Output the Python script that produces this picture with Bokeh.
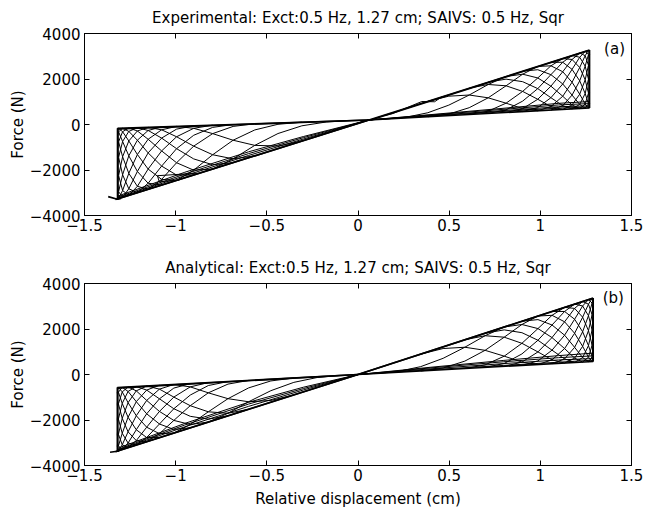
from bokeh.plotting import figure
from bokeh.models import Range1d, FixedTicker, LinearAxis, Label, CustomJSTickFormatter
from bokeh.layouts import column
from bokeh.embed import file_html
from bokeh.resources import INLINE

FONT = "DejaVu Sans"

X_TICKS = [-1.5, -1, -0.5, 0, 0.5, 1, 1.5]
Y_TICKS = [-4000, -2000, 0, 2000, 4000]

TITLE_A = "Experimental: Exct:0.5 Hz, 1.27 cm; SAIVS: 0.5 Hz, Sqr"
TITLE_B = "Analytical: Exct:0.5 Hz, 1.27 cm; SAIVS: 0.5 Hz, Sqr"
X_LABEL = "Relative displacement (cm)"
Y_LABEL = "Force (N)"

# =============== panel (a): experimental loops ===============
exp_env_xs = [
    [0.06, 1.27], [0.07, 1.265],
    [0.06, 1.27],
    [0.06, -1.319], [0.06, -1.33],
    [0.06, -1.319], [0.06, -1.319],
    [1.27, 1.27],
    [-1.319, -1.319],
    [-1.37, -1.32, -1.30],
]
exp_env_ys = [
    [200, 3274], [200, 3250],
    [200, 725],
    [200, -3271], [200, -3300],
    [200, -170], [200, -200],
    [725, 3274],
    [-170, -3271],
    [-3170, -3290, -3250],
]
exp_band_xs = [
    [0.06, 0.45, 0.85, 1.10, 1.27],
    [0.06, 0.45, 0.85, 1.10, 1.27],
    [0.06, 0.45, 0.85, 1.10, 1.27],
    [0.06, 0.45, 0.85, 1.10, 1.27],
    [-1.319, -0.95, -0.60, -0.30, 0.06],
    [-1.319, -0.95, -0.60, -0.30, 0.06],
    [-1.319, -0.95, -0.60, -0.30, 0.06],
]
exp_band_ys = [
    [200, 400, 600, 720, 770],
    [200, 420, 640, 780, 820],
    [200, 450, 700, 860, 920],
    [200, 470, 750, 930, 1010],
    [-3240, -2250, -1360, -640, 200],
    [-3200, -2180, -1280, -580, 200],
    [-3150, -2100, -1200, -530, 200],
]
exp_glitch_xs = [[0.15, 0.19, 0.35, 0.42, 0.46], [-0.88, -1.10, -1.09, -0.98]]
exp_glitch_ys = [[400, 480, 1010, 1000, 1220], [-2140, -2250, -2520, -2440]]

exp_right_xs = [
    [0.383, 0.498, 0.610, 0.714, 0.812, 0.903, 0.986],
    [0.610, 0.714, 0.812, 0.903, 0.986, 1.058, 1.123],
    [0.714, 0.812, 0.903, 0.986, 1.058, 1.123, 1.174],
    [0.812, 0.903, 0.986, 1.058, 1.123, 1.174, 1.216],
    [0.903, 0.986, 1.058, 1.123, 1.174, 1.216, 1.246],
    [0.986, 1.058, 1.123, 1.174, 1.216, 1.246, 1.264],
    [1.058, 1.123, 1.174, 1.216, 1.246, 1.264, 1.270],
    [1.123, 1.174, 1.216, 1.246, 1.264, 1.270, 1.264],
    [1.174, 1.216, 1.246, 1.264, 1.270, 1.264, 1.246],
    [1.216, 1.246, 1.264, 1.270, 1.264, 1.246, 1.216],
    [1.246, 1.264, 1.270, 1.264, 1.246, 1.216, 1.174],
    [1.264, 1.270, 1.264, 1.246, 1.216, 1.174, 1.123],
    [1.270, 1.264, 1.246, 1.216, 1.174, 1.123, 1.058],
    [1.264, 1.246, 1.216, 1.174, 1.123, 1.058, 0.986],
    [1.246, 1.216, 1.174, 1.123, 1.058, 0.986, 0.903],
    [1.216, 1.174, 1.123, 1.058, 0.986, 0.903, 0.812],
    [1.174, 1.123, 1.058, 0.986, 0.903, 0.812, 0.714],
    [1.123, 1.058, 0.986, 0.903, 0.812, 0.714, 0.610],
    [0.986, 0.903, 0.812, 0.714, 0.610, 0.498, 0.383],
    [0.812, 0.714, 0.610, 0.498, 0.383, 0.265, 0.146],
]
exp_right_ys = [
    [1020, 1245, 1296, 1173, 937, 698, 602],
    [1597, 1759, 1701, 1454, 1108, 789, 661],
    [1862, 1994, 1882, 1577, 1178, 827, 684],
    [2111, 2211, 2046, 1685, 1242, 858, 701],
    [2343, 2408, 2191, 1781, 1293, 882, 714],
    [2552, 2580, 2320, 1858, 1333, 900, 722],
    [2736, 2735, 2423, 1919, 1362, 911, 725],
    [2900, 2858, 2505, 1964, 1380, 914, 722],
    [3032, 2956, 2565, 1992, 1386, 911, 714],
    [3136, 3027, 2603, 2000, 1380, 900, 701],
    [3213, 3072, 2614, 1992, 1362, 882, 684],
    [3261, 3086, 2603, 1964, 1333, 858, 661],
    [3274, 3072, 2565, 1919, 1293, 827, 633],
    [3261, 3027, 2505, 1858, 1242, 789, 602],
    [3213, 2956, 2423, 1781, 1178, 746, 566],
    [3136, 2858, 2320, 1685, 1108, 698, 527],
    [3032, 2735, 2191, 1577, 1027, 644, 484],
    [2900, 2580, 2046, 1454, 937, 586, 439],
    [2552, 2211, 1701, 1173, 739, 459, 340],
    [2111, 1759, 1296, 851, 517, 321, 238],
]
exp_left_xs = [
    [-0.308, -0.439, -0.566, -0.685, -0.797, -0.901, -0.995],
    [-0.566, -0.685, -0.797, -0.901, -0.995, -1.077, -1.151],
    [-0.685, -0.797, -0.901, -0.995, -1.077, -1.151, -1.210],
    [-0.797, -0.901, -0.995, -1.077, -1.151, -1.210, -1.257],
    [-0.901, -0.995, -1.077, -1.151, -1.210, -1.257, -1.291],
    [-0.995, -1.077, -1.151, -1.210, -1.257, -1.291, -1.313],
    [-1.077, -1.151, -1.210, -1.257, -1.291, -1.313, -1.319],
    [-1.151, -1.210, -1.257, -1.291, -1.313, -1.319, -1.313],
    [-1.210, -1.257, -1.291, -1.313, -1.319, -1.313, -1.291],
    [-1.257, -1.291, -1.313, -1.319, -1.313, -1.291, -1.257],
    [-1.291, -1.313, -1.319, -1.313, -1.291, -1.257, -1.210],
    [-1.313, -1.319, -1.313, -1.291, -1.257, -1.210, -1.151],
    [-1.319, -1.313, -1.291, -1.257, -1.210, -1.151, -1.077],
    [-1.313, -1.291, -1.257, -1.210, -1.151, -1.077, -0.995],
    [-1.291, -1.257, -1.210, -1.151, -1.077, -0.995, -0.901],
    [-1.257, -1.210, -1.151, -1.077, -0.995, -0.901, -0.797],
    [-1.210, -1.151, -1.077, -0.995, -0.901, -0.797, -0.685],
    [-1.151, -1.077, -0.995, -0.901, -0.797, -0.685, -0.566],
    [-0.995, -0.901, -0.797, -0.685, -0.566, -0.439, -0.308],
    [-0.797, -0.685, -0.566, -0.439, -0.308, -0.174, -0.038],
]
exp_left_ys = [
    [-726, -946, -917, -691, -401, -167, -83],
    [-1377, -1511, -1329, -950, -539, -234, -125],
    [-1676, -1769, -1513, -1062, -597, -262, -141],
    [-1958, -2007, -1681, -1161, -649, -285, -154],
    [-2219, -2223, -1828, -1249, -690, -303, -163],
    [-2456, -2412, -1959, -1319, -723, -316, -169],
    [-2663, -2582, -2064, -1376, -747, -324, -170],
    [-2849, -2717, -2148, -1417, -762, -326, -169],
    [-2997, -2825, -2209, -1442, -766, -324, -163],
    [-3115, -2903, -2247, -1450, -762, -316, -154],
    [-3201, -2952, -2259, -1442, -747, -303, -141],
    [-3255, -2967, -2247, -1417, -723, -285, -125],
    [-3271, -2952, -2209, -1376, -690, -262, -105],
    [-3255, -2903, -2148, -1319, -649, -234, -83],
    [-3201, -2825, -2064, -1249, -597, -203, -58],
    [-3115, -2717, -1959, -1161, -539, -167, -30],
    [-2997, -2582, -1828, -1062, -473, -127, 0],
    [-2849, -2412, -1681, -950, -401, -84, 32],
    [-2456, -2007, -1329, -691, -239, 9, 101],
    [-1958, -1511, -917, -397, -58, 111, 174],
]

# =============== panel (b): analytical loops ===============
ana_env_xs = [
    [0.0, 1.29], [0.0, 1.285],
    [0.0, 1.29],
    [0.0, -1.32], [0.0, -1.33],
    [0.0, -1.32], [0.0, -1.32],
    [1.29, 1.29],
    [-1.32, -1.32],
    [-1.36, -1.31],
]
ana_env_ys = [
    [0, 3360], [0, 3340],
    [0, 574],
    [0, -3360], [0, -3400],
    [0, -574], [0, -600],
    [574, 3360],
    [-574, -3360],
    [-3420, -3360],
]
ana_band_xs = [
    [0.0, 0.40, 0.80, 1.10, 1.29],
    [0.0, 0.40, 0.80, 1.10, 1.29],
    [0.0, 0.40, 0.80, 1.10, 1.29],
    [0.0, 0.40, 0.80, 1.10, 1.29],
    [-1.32, -0.95, -0.60, -0.30, 0.0],
    [-1.32, -0.95, -0.60, -0.30, 0.0],
    [-1.32, -0.95, -0.60, -0.30, 0.0],
]
ana_band_ys = [
    [0, 210, 400, 540, 630],
    [0, 250, 480, 640, 700],
    [0, 290, 560, 740, 820],
    [0, 320, 620, 830, 940],
    [-3330, -2300, -1400, -680, 0],
    [-3300, -2220, -1300, -620, 0],
    [-3250, -2150, -1220, -560, 0],
]
ana_right_xs = [
    [0.344, 0.467, 0.586, 0.697, 0.802, 0.899, 0.987],
    [0.586, 0.697, 0.802, 0.899, 0.987, 1.064, 1.133],
    [0.697, 0.802, 0.899, 0.987, 1.064, 1.133, 1.188],
    [0.802, 0.899, 0.987, 1.064, 1.133, 1.188, 1.232],
    [0.899, 0.987, 1.064, 1.133, 1.188, 1.232, 1.264],
    [0.987, 1.064, 1.133, 1.188, 1.232, 1.264, 1.284],
    [1.064, 1.133, 1.188, 1.232, 1.264, 1.284, 1.290],
    [1.133, 1.188, 1.232, 1.264, 1.284, 1.290, 1.284],
    [1.188, 1.232, 1.264, 1.284, 1.290, 1.284, 1.264],
    [1.232, 1.264, 1.284, 1.290, 1.284, 1.264, 1.232],
    [1.264, 1.284, 1.290, 1.284, 1.264, 1.232, 1.188],
    [1.284, 1.290, 1.284, 1.264, 1.232, 1.188, 1.133],
    [1.290, 1.284, 1.264, 1.232, 1.188, 1.133, 1.064],
    [1.284, 1.264, 1.232, 1.188, 1.133, 1.064, 0.987],
    [1.264, 1.232, 1.188, 1.133, 1.064, 0.987, 0.899],
    [1.232, 1.188, 1.133, 1.064, 0.987, 0.899, 0.802],
    [1.188, 1.133, 1.064, 0.987, 0.899, 0.802, 0.697],
    [1.133, 1.064, 0.987, 0.899, 0.802, 0.697, 0.586],
    [0.987, 0.899, 0.802, 0.697, 0.586, 0.467, 0.344],
    [0.802, 0.697, 0.586, 0.467, 0.344, 0.219, 0.092],
]
ana_right_ys = [
    [896, 1142, 1198, 1063, 806, 544, 439],
    [1527, 1704, 1640, 1371, 992, 644, 504],
    [1816, 1961, 1838, 1505, 1069, 685, 529],
    [2089, 2198, 2018, 1623, 1139, 719, 548],
    [2342, 2413, 2176, 1728, 1194, 745, 562],
    [2571, 2601, 2317, 1812, 1238, 765, 571],
    [2772, 2770, 2429, 1879, 1270, 777, 574],
    [2951, 2905, 2519, 1928, 1290, 780, 571],
    [3095, 3012, 2585, 1958, 1296, 777, 562],
    [3209, 3090, 2626, 1967, 1290, 765, 548],
    [3293, 3139, 2638, 1958, 1270, 745, 529],
    [3345, 3154, 2626, 1928, 1238, 719, 504],
    [3360, 3139, 2585, 1879, 1194, 685, 473],
    [3345, 3090, 2519, 1812, 1139, 644, 439],
    [3293, 3012, 2429, 1728, 1069, 597, 400],
    [3209, 2905, 2317, 1623, 992, 544, 357],
    [3095, 2770, 2176, 1505, 904, 485, 310],
    [2951, 2601, 2018, 1371, 806, 422, 261],
    [2571, 2198, 1640, 1063, 589, 283, 153],
    [2089, 1704, 1198, 712, 346, 132, 41],
]
ana_left_xs = [
    [-0.352, -0.478, -0.600, -0.713, -0.821, -0.920, -1.010],
    [-0.600, -0.713, -0.821, -0.920, -1.010, -1.089, -1.159],
    [-0.713, -0.821, -0.920, -1.010, -1.089, -1.159, -1.216],
    [-0.821, -0.920, -1.010, -1.089, -1.159, -1.216, -1.261],
    [-0.920, -1.010, -1.089, -1.159, -1.216, -1.261, -1.293],
    [-1.010, -1.089, -1.159, -1.216, -1.261, -1.293, -1.314],
    [-1.089, -1.159, -1.216, -1.261, -1.293, -1.314, -1.320],
    [-1.159, -1.216, -1.261, -1.293, -1.314, -1.320, -1.314],
    [-1.216, -1.261, -1.293, -1.314, -1.320, -1.314, -1.293],
    [-1.261, -1.293, -1.314, -1.320, -1.314, -1.293, -1.261],
    [-1.293, -1.314, -1.320, -1.314, -1.293, -1.261, -1.216],
    [-1.314, -1.320, -1.314, -1.293, -1.261, -1.216, -1.159],
    [-1.320, -1.314, -1.293, -1.261, -1.216, -1.159, -1.089],
    [-1.314, -1.293, -1.261, -1.216, -1.159, -1.089, -1.010],
    [-1.293, -1.261, -1.216, -1.159, -1.089, -1.010, -0.920],
    [-1.261, -1.216, -1.159, -1.089, -1.010, -0.920, -0.821],
    [-1.216, -1.159, -1.089, -1.010, -0.920, -0.821, -0.713],
    [-1.159, -1.089, -1.010, -0.920, -0.821, -0.713, -0.600],
    [-1.010, -0.920, -0.821, -0.713, -0.600, -0.478, -0.352],
    [-0.821, -0.713, -0.600, -0.478, -0.352, -0.224, -0.094],
]
ana_left_ys = [
    [-896, -1142, -1198, -1063, -806, -544, -439],
    [-1527, -1704, -1640, -1371, -992, -644, -504],
    [-1816, -1961, -1838, -1505, -1069, -685, -529],
    [-2089, -2198, -2018, -1623, -1139, -719, -548],
    [-2342, -2413, -2176, -1728, -1194, -745, -562],
    [-2571, -2601, -2317, -1812, -1238, -765, -571],
    [-2772, -2770, -2429, -1879, -1270, -777, -574],
    [-2951, -2905, -2519, -1928, -1290, -780, -571],
    [-3095, -3012, -2585, -1958, -1296, -777, -562],
    [-3209, -3090, -2626, -1967, -1290, -765, -548],
    [-3293, -3139, -2638, -1958, -1270, -745, -529],
    [-3345, -3154, -2626, -1928, -1238, -719, -504],
    [-3360, -3139, -2585, -1879, -1194, -685, -473],
    [-3345, -3090, -2519, -1812, -1139, -644, -439],
    [-3293, -3012, -2429, -1728, -1069, -597, -400],
    [-3209, -2905, -2317, -1623, -992, -544, -357],
    [-3095, -2770, -2176, -1505, -904, -485, -310],
    [-2951, -2601, -2018, -1371, -806, -422, -261],
    [-2571, -2198, -1640, -1063, -589, -283, -153],
    [-2089, -1704, -1198, -712, -346, -132, -41],
]

MINUS_FMT = "return (tick < 0 ? '\\u2212' : '') + Math.abs(tick).toString();"
EMPTY_FMT = "return '';"


def style_axis(ax, ticks, labels_on, standoff):
    ax.ticker = FixedTicker(ticks=ticks)
    ax.formatter = CustomJSTickFormatter(code=MINUS_FMT if labels_on else EMPTY_FMT)
    ax.axis_line_color = "black"
    ax.axis_line_width = 1
    ax.major_tick_in = 5
    ax.major_tick_out = 0
    ax.major_tick_line_color = "black"
    ax.major_tick_line_width = 1
    ax.minor_tick_line_color = None
    ax.major_label_text_font = FONT
    ax.major_label_text_font_size = "15px" if labels_on else "0px"
    ax.major_label_text_color = "black"
    ax.major_label_standoff = standoff if labels_on else 0
    ax.axis_label_text_font = FONT
    ax.axis_label_text_font_size = "15px"
    ax.axis_label_text_font_style = "normal"
    ax.axis_label_text_color = "black"


def make_panel(title, env, band, glitch, sides, tag, tag_xy, height, top, bottom, xlabel):
    p = figure(width=658, height=height,
               x_range=Range1d(-1.5, 1.5), y_range=Range1d(-4000, 4000),
               output_backend="svg", toolbar_location=None,
               min_border_left=84, min_border_right=27,
               min_border_top=top, min_border_bottom=bottom,
               title=title)
    p.title.align = "center"
    p.title.text_font = FONT
    p.title.text_font_size = "15px"
    p.title.text_font_style = "normal"
    p.title.text_color = "black"
    p.title.standoff = 13
    p.xgrid.grid_line_color = None
    p.ygrid.grid_line_color = None
    p.outline_line_color = "black"
    p.background_fill_color = "white"
    p.border_fill_color = "white"

    style_axis(p.xaxis[0], X_TICKS, True, 3)
    style_axis(p.yaxis[0], Y_TICKS, True, 4)
    p.yaxis[0].axis_label = Y_LABEL
    p.yaxis[0].axis_label_standoff = 0
    if xlabel:
        p.xaxis[0].axis_label = xlabel
        p.xaxis[0].axis_label_standoff = 6
    top_ax = LinearAxis()
    style_axis(top_ax, X_TICKS, False, 0)
    p.add_layout(top_ax, "above")
    right_ax = LinearAxis()
    style_axis(right_ax, Y_TICKS, False, 0)
    p.add_layout(right_ax, "right")

    for xs, ys in sides:
        p.multi_line(xs=xs, ys=ys, line_color="black", line_width=1.0)
    p.multi_line(xs=band[0], ys=band[1], line_color="black", line_width=1.0)
    if glitch is not None:
        p.multi_line(xs=glitch[0], ys=glitch[1], line_color="black", line_width=1.0)
    p.multi_line(xs=env[0], ys=env[1], line_color="black", line_width=1.6)

    p.add_layout(Label(x=tag_xy[0], y=tag_xy[1], text=tag, text_align="center",
                       text_baseline="middle", text_font=FONT,
                       text_font_size="15px", text_color="black"))
    return p


p1 = make_panel(TITLE_A, (exp_env_xs, exp_env_ys), (exp_band_xs, exp_band_ys),
                (exp_glitch_xs, exp_glitch_ys),
                [(exp_right_xs, exp_right_ys), (exp_left_xs, exp_left_ys)],
                "(a)", (1.407, 3327), 250, 33, 35, None)
p2 = make_panel(TITLE_B, (ana_env_xs, ana_env_ys), (ana_band_xs, ana_band_ys), None,
                [(ana_right_xs, ana_right_ys), (ana_left_xs, ana_left_ys)],
                "(b)", (1.40, 3363), 260, 33, 45, X_LABEL)

layout = column(p1, p2, spacing=0)
open("out.html", "w").write(file_html(layout, INLINE))
